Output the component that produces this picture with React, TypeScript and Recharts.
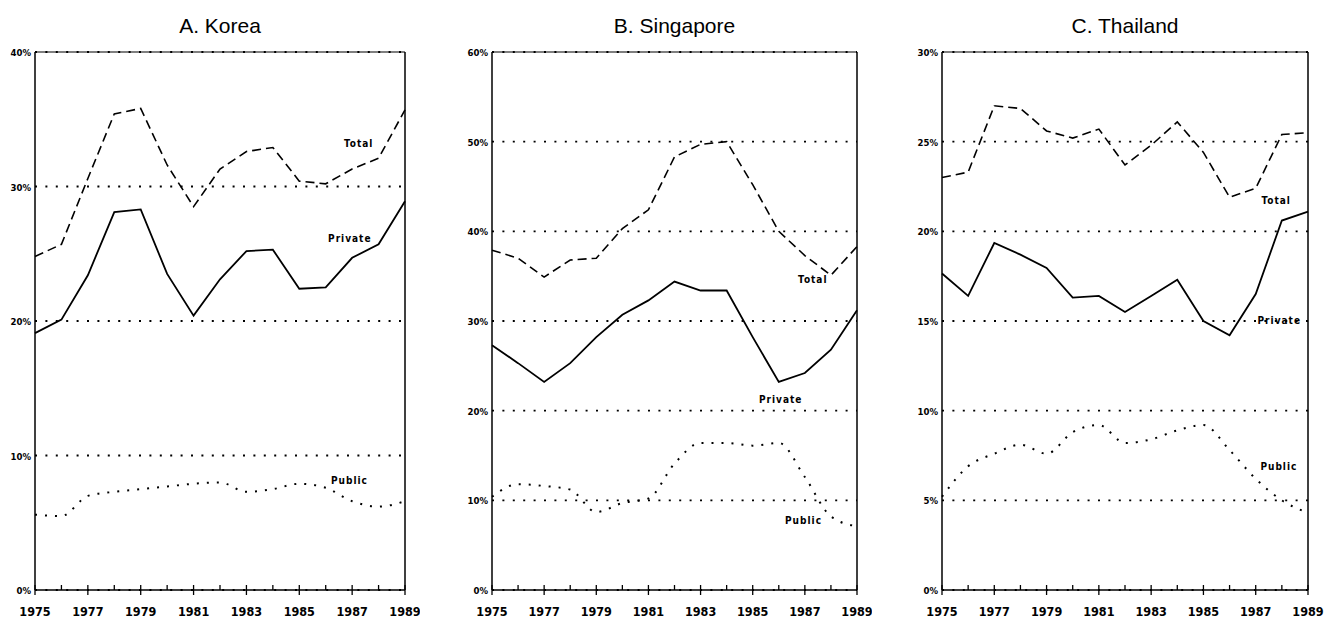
import React from 'react'
import {
  ComposedChart,
  Line,
  Scatter,
  XAxis,
  YAxis,
  CartesianGrid,
  ReferenceLine,
} from 'recharts'

const years = [1975, 1976, 1977, 1978, 1979, 1980, 1981, 1982, 1983, 1984, 1985, 1986, 1987, 1988, 1989]

// Korea
const koreaTotal = [24.8, 25.7, 30.6, 35.4, 35.8, 31.6, 28.5, 31.3, 32.6, 32.9, 30.4, 30.2, 31.3, 32.1, 35.7]
const koreaPrivate = [19.1, 20.1, 23.4, 28.1, 28.3, 23.5, 20.4, 23.1, 25.2, 25.3, 22.4, 22.5, 24.7, 25.7, 28.9]
const koreaPublic = [5.6, 5.5, 7.0, 7.3, 7.5, 7.7, 7.9, 8.0, 7.3, 7.5, 7.9, 7.6, 6.6, 6.2, 6.6]

// Singapore
const singaporeTotal = [37.9, 37.0, 34.9, 36.8, 37.0, 40.3, 42.4, 48.3, 49.7, 50.0, 45.2, 40.0, 37.3, 35.1, 38.3]
const singaporePrivate = [27.3, 25.3, 23.2, 25.3, 28.2, 30.7, 32.3, 34.4, 33.4, 33.4, 28.2, 23.2, 24.2, 26.8, 31.2]
const singaporePublic = [10.4, 11.8, 11.6, 11.2, 8.7, 9.7, 10.2, 14.1, 16.4, 16.4, 16.1, 16.4, 12.6, 8.2, 7.1]

// Thailand
const thailandTotal = [23.0, 23.3, 27.0, 26.85, 25.6, 25.2, 25.7, 23.7, 24.8, 26.1, 24.4, 21.9, 22.4, 25.4, 25.5]
const thailandPrivate = [17.65, 16.4, 19.35, 18.7, 17.96, 16.3, 16.4, 15.5, 16.4, 17.3, 15.0, 14.2, 16.5, 20.6, 21.1]
const thailandPublic = [5.2, 6.9, 7.6, 8.1, 7.6, 8.8, 9.2, 8.2, 8.4, 8.9, 9.2, 7.8, 6.2, 5.0, 4.3]

const koreaTicks = [0, 10, 20, 30, 40]
const singaporeTicks = [0, 10, 20, 30, 40, 50, 60]
const thailandTicks = [0, 5, 10, 15, 20, 25, 30]

const seriesNames = ['Total', 'Private', 'Public']
const koreaLabelAt = [[1986.69, 32.9], [1986.09, 25.9], [1986.2, 7.9]]
const singaporeLabelAt = [[1986.74, 34.2], [1985.24, 20.8], [1986.24, 7.4]]
const thailandLabelAt = [[1987.22, 21.5], [1987.07, 14.85], [1987.18, 6.67]]

const tickFont = "'Liberation Sans Narrow', 'DejaVu Sans Condensed', sans-serif"

const build = (total: number[], priv: number[], pub: number[]) =>
  years.map((year, i) => ({ year, total: total[i], private: priv[i], public: pub[i] }))

const XTick = (props: any) => {
  const { x, y, payload } = props
  const major = (payload.value - 1975) % 2 === 0
  return (
    <g>
      <line x1={x} x2={x} y1={y - 5} y2={y + (major ? 5 : 0)} stroke="#000" strokeWidth={1.3} />
      {major && (
        <text
          x={x}
          y={y + 26}
          textAnchor="middle"
          fontFamily={tickFont}
          fontWeight="bold"
          fontSize={12.5}
          fill="#000"
        >
          {String(payload.value)}
        </text>
      )}
    </g>
  )
}

const YTick = (props: any) => {
  const { x, y, payload } = props
  return (
    <text x={x} y={y + 4} textAnchor="end" fontFamily={tickFont} fontWeight="bold" fontSize={9.5} fill="#000">
      {`${payload.value}%`}
    </text>
  )
}

const LabelShape = (props: any) => {
  const { cx, cy, payload } = props
  return (
    <text x={cx} y={cy} fontFamily={tickFont} fontWeight="bold" fontSize={10} letterSpacing={1} fill="#000">
      {payload.name}
    </text>
  )
}

type PanelProps = {
  title: string
  left: number
  width: number
  right: number
  data: any[]
  ticks: number[]
  labelAt: number[][]
}

function Panel({ title, left, width, right, data, ticks, labelAt }: PanelProps) {
  const max = ticks[ticks.length - 1]
  const labels = seriesNames.map((name, i) => ({ year: labelAt[i][0], value: labelAt[i][1], name }))
  const plotCenter = left + 35 + (width - 35 - right) / 2
  return (
    <>
      <div
        style={{
          position: 'absolute',
          left: plotCenter - 150,
          width: 300,
          top: 15,
          textAlign: 'center',
          fontFamily: "'Liberation Sans', Arial, sans-serif",
          fontSize: 21,
          lineHeight: '21px',
        }}
      >
        {title}
      </div>
      <div style={{ position: 'absolute', left, top: 40 }}>
        <ComposedChart width={width} height={580} data={data} margin={{ top: 12, right, bottom: 0, left: 0 }}>
          <CartesianGrid vertical={false} stroke="#000" strokeWidth={1.8} strokeDasharray="2 8.4" />
          <XAxis
            dataKey="year"
            type="number"
            domain={[1975, 1989]}
            ticks={years}
            interval={0}
            height={30}
            tickSize={0}
            tickMargin={0}
            tickLine={false}
            axisLine={{ stroke: '#000', strokeWidth: 1.5 }}
            tick={<XTick />}
          />
          <YAxis
            type="number"
            domain={[0, max]}
            ticks={ticks}
            width={35}
            tickSize={0}
            tickMargin={4}
            tickLine={false}
            axisLine={{ stroke: '#000', strokeWidth: 1.5 }}
            tick={<YTick />}
          />
          <ReferenceLine y={max} stroke="#000" strokeWidth={1.2} />
          <ReferenceLine x={1989} stroke="#000" strokeWidth={1.5} />
          <Line
            dataKey="total"
            stroke="#000"
            strokeWidth={1.6}
            strokeDasharray="9 5"
            dot={false}
            isAnimationActive={false}
          />
          <Line dataKey="private" stroke="#000" strokeWidth={1.8} dot={false} isAnimationActive={false} />
          <Line
            dataKey="public"
            type="monotone"
            stroke="#000"
            strokeWidth={2}
            strokeDasharray="2 8"
            dot={false}
            isAnimationActive={false}
          />
          <Scatter data={labels} dataKey="value" shape={<LabelShape />} isAnimationActive={false} />
        </ComposedChart>
      </div>
    </>
  )
}

export default function App() {
  return (
    <div style={{ position: 'absolute', left: 0, top: 0, width: 1326, height: 620, background: '#fff' }}>
      <Panel
        title="A. Korea"
        left={0}
        width={420}
        right={15}
        data={build(koreaTotal, koreaPrivate, koreaPublic)}
        ticks={koreaTicks}
        labelAt={koreaLabelAt}
      />
      <Panel
        title="B. Singapore"
        left={457}
        width={415}
        right={15}
        data={build(singaporeTotal, singaporePrivate, singaporePublic)}
        ticks={singaporeTicks}
        labelAt={singaporeLabelAt}
      />
      <Panel
        title="C. Thailand"
        left={907}
        width={417}
        right={16}
        data={build(thailandTotal, thailandPrivate, thailandPublic)}
        ticks={thailandTicks}
        labelAt={thailandLabelAt}
      />
    </div>
  )
}
